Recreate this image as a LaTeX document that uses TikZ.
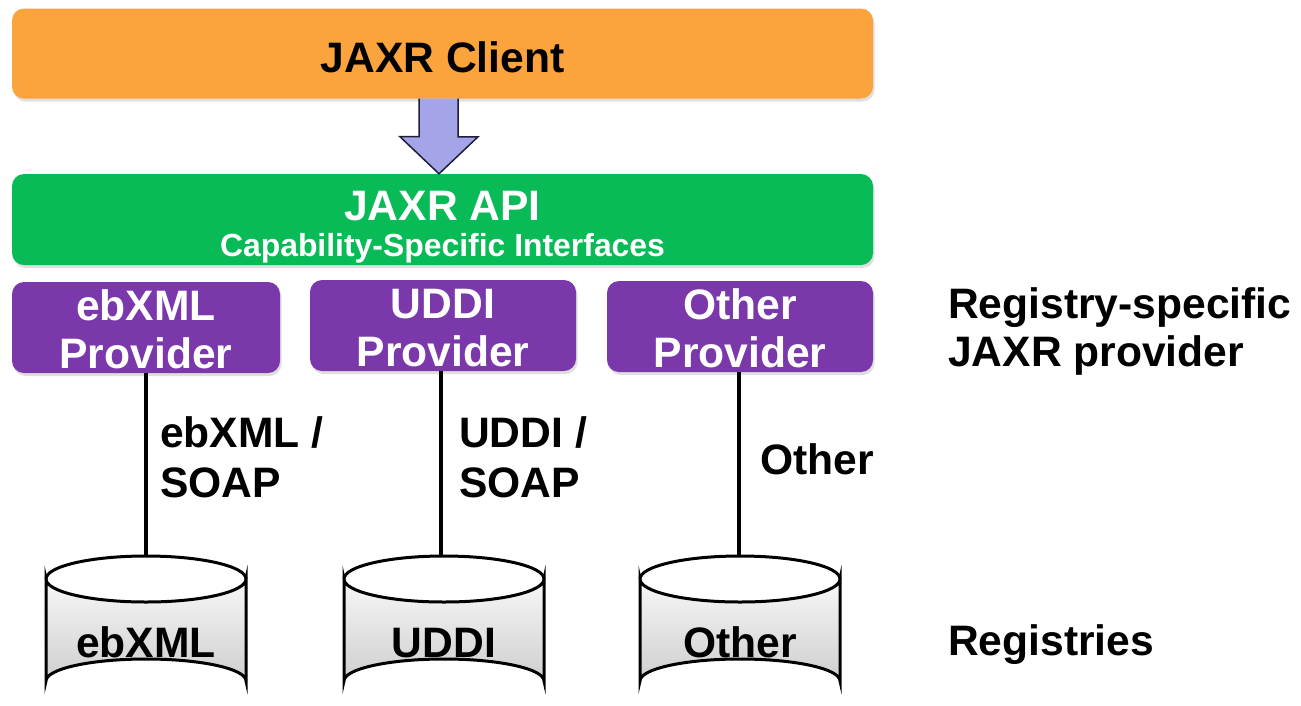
\documentclass[tikz,border=0pt]{standalone}
\usepackage{fontspec}
\setmainfont{Liberation Sans}
\usetikzlibrary{shadows,calc}
\definecolor{clientor}{HTML}{FBA33D}
\definecolor{apigreen}{HTML}{08BB56}
\definecolor{provpurple}{HTML}{7A38AB}
\definecolor{arrowfill}{HTML}{A3A5E8}
\definecolor{arrowline}{HTML}{1E1E3A}
\tikzset{
  box/.style={draw=none, rounded corners=12pt, inner sep=0pt,
    drop shadow={opacity=0.25, shadow xshift=1.5pt, shadow yshift=-3pt}},
  big/.style={font=\fontsize{42.6}{48}\selectfont\bfseries, inner sep=0pt},
  small/.style={font=\fontsize{31.9}{36}\selectfont\bfseries, inner sep=0pt},
  wtext/.style={text=white},
  link/.style={line width=3.5pt, black},
  cylbody/.style={draw=black, line width=3pt, top color=gray!6, bottom color=gray!38},
  cyledge/.style={draw=black, line width=3pt},
  bigarrow/.style={draw=arrowline, line width=1.5pt, fill=arrowfill, line join=miter}
}
\begin{document}
\begin{tikzpicture}[x=1pt,y=-1pt]
\useasboundingbox (0,0) rectangle (1301,705);
% boxes
\node[box, fill=clientor, minimum width=861pt, minimum height=90pt] (client) at (442.5,53.5) {};
\node[box, fill=apigreen, minimum width=861pt, minimum height=91pt] (api) at (442.5,219.5) {};
\draw[bigarrow] ($(client.south)+(-23.5,0)$) -- ++(0,38) -- ++(-19,0) -- ($(api.north)+(-3.5,0)$)
   -- ++(39,-37) -- ++(-20,0) -- ($(client.south)+(15.5,0)$);
\node[box, fill=provpurple, minimum width=268pt, minimum height=91pt] (pebxml) at (146,327.5) {};
\node[box, fill=provpurple, minimum width=266pt, minimum height=91pt] (puddi) at (443,325.5) {};
\node[box, fill=provpurple, minimum width=266pt, minimum height=91pt] (pother) at (740,326.5) {};
% box texts
\node[big, anchor=base] (tclient) at (442.5,72) {JAXR Client};
\node[big, wtext, anchor=base] (tapi) at (442.5,220) {JAXR API};
\node[small, wtext, anchor=base] (tcap) at (442.5,256) {Capability-Specific Interfaces};
\node[big, wtext, anchor=base] (te1) at (146,320) {ebXML};
\node[big, wtext, anchor=base] (te2) at (146,368) {Provider};
\node[big, wtext, anchor=base] (tu1) at (443,318) {UDDI};
\node[big, wtext, anchor=base] (tu2) at (443,366) {Provider};
\node[big, wtext, anchor=base] (to1) at (740,319) {Other};
\node[big, wtext, anchor=base] (to2) at (740,367) {Provider};
% cylinders
\foreach \n/\cx in {cebxml/146, cuddi/444, cother/740}{
  \path[cylbody] (\cx-100,579) -- (\cx-100,681)
     arc[start angle=180, end angle=360, x radius=100, y radius=22]
     -- (\cx+100,579)
     arc[start angle=0, end angle=180, x radius=100, y radius=23] -- cycle;
  \draw[cyledge] (\cx-100,579) arc[start angle=180, end angle=360, x radius=100, y radius=23];
  \coordinate (\n) at (\cx,556);
}
\node[big, anchor=base] (rebxml) at (146,657) {ebXML};
\node[big, anchor=base] (ruddi) at (444,657) {UDDI};
\node[big, anchor=base] (rother) at (740,657) {Other};
% links
\draw[link] (pebxml.south) -- (pebxml.south |- cebxml);
\draw[link] (puddi.south -| 441,0) -- (441,556);
\draw[link] (pother.south -| 739,0) -- (739,556);
% link labels
\node[big, anchor=base west] (l1a) at (160,447) {ebXML /};
\node[big, anchor=base west] (l1b) at (160,497) {SOAP};
\node[big, anchor=base west] (l2a) at (459,447) {UDDI /};
\node[big, anchor=base west] (l2b) at (459,497) {SOAP};
\node[big, anchor=base west] (l3) at (760,474) {Other};
% right labels
\node[big, anchor=base west] (rs1) at (948,318) {Registry-specific};
\node[big, anchor=base west] (rs2) at (948,366) {JAXR provider};
\node[big, anchor=base west] (rg) at (948,655) {Registries};
\end{tikzpicture}
\end{document}
